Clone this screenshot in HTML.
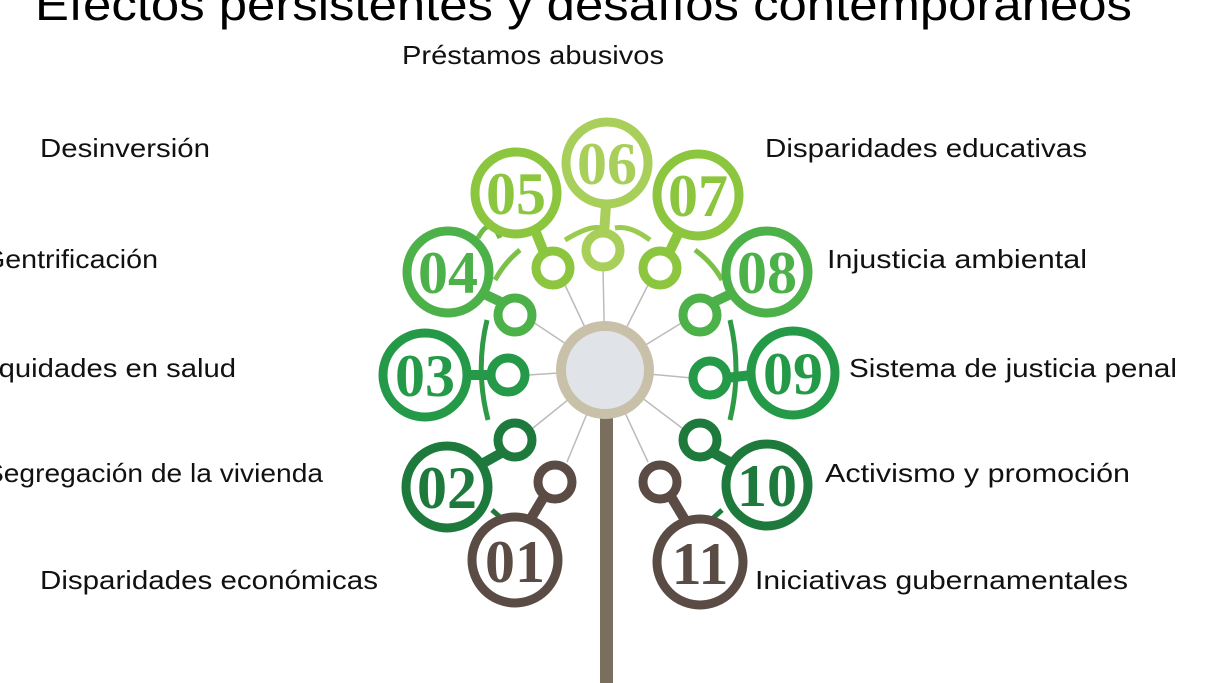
<!DOCTYPE html>
<html><head><meta charset="utf-8"><style>
html,body{margin:0;padding:0;background:#fff;width:1215px;height:683px;overflow:hidden}
svg{display:block}
.t{font-family:"Liberation Sans",sans-serif;font-size:26px;fill:#111}
.n{font-family:"Liberation Serif",serif;font-weight:bold;font-size:60px;text-anchor:middle}
</style></head><body>
<svg width="1215" height="683" viewBox="0 0 1215 683" xmlns="http://www.w3.org/2000/svg">
<text x="35" y="20" font-family="Liberation Sans, sans-serif" font-size="45" fill="#000" textLength="1097" lengthAdjust="spacingAndGlyphs">Efectos persistentes y desafíos contemporáneos</text>
<text class="t" x="402" y="64" textLength="262" lengthAdjust="spacingAndGlyphs">Préstamos abusivos</text>
<text class="t" x="40" y="157" textLength="170" lengthAdjust="spacingAndGlyphs">Desinversión</text>
<text class="t" x="-17" y="268" textLength="175" lengthAdjust="spacingAndGlyphs">Gentrificación</text>
<text class="t" x="-42" y="377" textLength="278" lengthAdjust="spacingAndGlyphs">Inequidades en salud</text>
<text class="t" x="-15" y="482" textLength="338" lengthAdjust="spacingAndGlyphs">Segregación de la vivienda</text>
<text class="t" x="40" y="589" textLength="338" lengthAdjust="spacingAndGlyphs">Disparidades económicas</text>
<text class="t" x="765" y="157" textLength="322" lengthAdjust="spacingAndGlyphs">Disparidades educativas</text>
<text class="t" x="827" y="268" textLength="260" lengthAdjust="spacingAndGlyphs">Injusticia ambiental</text>
<text class="t" x="849" y="377" textLength="328" lengthAdjust="spacingAndGlyphs">Sistema de justicia penal</text>
<text class="t" x="825" y="482" textLength="305" lengthAdjust="spacingAndGlyphs">Activismo y promoción</text>
<text class="t" x="755" y="589" textLength="373" lengthAdjust="spacingAndGlyphs">Iniciativas gubernamentales</text>

<rect x="600" y="410" width="13" height="273" fill="#7a6e5f"/>
<g stroke="#bbb" stroke-width="1.5" fill="none">
<line x1="605" y1="370" x2="567" y2="462"/><line x1="605" y1="370" x2="533" y2="428"/>
<line x1="605" y1="370" x2="528" y2="375"/><line x1="605" y1="370" x2="533" y2="322"/>
<line x1="605" y1="370" x2="565" y2="285"/><line x1="605" y1="370" x2="603" y2="267"/>
<line x1="605" y1="370" x2="648" y2="285"/><line x1="605" y1="370" x2="683" y2="322"/>
<line x1="605" y1="370" x2="692" y2="378"/><line x1="605" y1="370" x2="682" y2="428"/>
<line x1="605" y1="370" x2="648" y2="462"/>
</g>
<circle cx="605" cy="370" r="44" fill="#e0e4e8" stroke="#c9c0aa" stroke-width="10"/>

<g fill="none" stroke-width="5">
<path d="M487 320 Q475 370 488 420" stroke="#2e9a46"/>
<path d="M730 320 Q742 370 730 420" stroke="#2e9a46"/>
<path d="M478 238 Q490 215 500 238" stroke="#6dbb44"/>
<path d="M565 240 Q590 225 600 228" stroke="#9acb4c"/>
<path d="M615 228 Q630 225 650 240" stroke="#9acb4c"/>
<path d="M520 250 Q505 262 495 280" stroke="#7cc048"/>
<path d="M695 250 Q712 262 722 280" stroke="#7cc048"/>
<path d="M492 510 L515 530" stroke="#1e7a3c"/>
<path d="M722 510 L700 530" stroke="#1e7a3c"/>
</g>
<g stroke-width="10" fill="none">
<line x1="545" y1="495" x2="530" y2="520" stroke="#5a4c45"/>
<line x1="670" y1="495" x2="685" y2="520" stroke="#5a4c45"/>
<line x1="503" y1="452" x2="480" y2="465" stroke="#1e7a3c"/>
<line x1="712" y1="452" x2="735" y2="465" stroke="#1e7a3c"/>
<line x1="492" y1="375" x2="466" y2="375" stroke="#249a48"/>
<line x1="726" y1="378" x2="752" y2="375" stroke="#249a48"/>
<line x1="503" y1="303" x2="480" y2="292" stroke="#4cb148"/>
<line x1="712" y1="303" x2="735" y2="292" stroke="#4cb148"/>
<line x1="545" y1="255" x2="535" y2="230" stroke="#8cc63f"/>
<line x1="668" y1="255" x2="680" y2="230" stroke="#8cc63f"/>
<line x1="604" y1="234" x2="606" y2="205" stroke="#a9cf5b"/>
</g>
<g fill="#fff" stroke-width="9">
<circle cx="555" cy="482" r="17" stroke="#5a4c45"/>
<circle cx="515" cy="560" r="43" stroke="#5a4c45"/>
<circle cx="660" cy="482" r="17" stroke="#5a4c45"/>
<circle cx="700" cy="562" r="43" stroke="#5a4c45"/>
<circle cx="515" cy="440" r="17" stroke="#1e7a3c"/>
<circle cx="447" cy="487" r="41" stroke="#1e7a3c"/>
<circle cx="700" cy="440" r="17" stroke="#1e7a3c"/>
<circle cx="767" cy="485" r="41" stroke="#1e7a3c"/>
<circle cx="508" cy="375" r="17" stroke="#249a48"/>
<circle cx="425" cy="375" r="42" stroke="#249a48"/>
<circle cx="710" cy="378" r="17" stroke="#249a48"/>
<circle cx="793" cy="373" r="42" stroke="#249a48"/>
<circle cx="515" cy="315" r="17" stroke="#4cb148"/>
<circle cx="448" cy="272" r="41" stroke="#4cb148"/>
<circle cx="700" cy="315" r="17" stroke="#4cb148"/>
<circle cx="767" cy="272" r="41" stroke="#4cb148"/>
<circle cx="553" cy="268" r="17" stroke="#8cc63f"/>
<circle cx="516" cy="193" r="41" stroke="#8cc63f"/>
<circle cx="660" cy="268" r="17" stroke="#8cc63f"/>
<circle cx="698" cy="195" r="41" stroke="#8cc63f"/>
<circle cx="603" cy="250" r="17" stroke="#a9cf5b"/>
<circle cx="607" cy="163" r="41" stroke="#a9cf5b"/>
</g>
<g>
<text class="n" x="515" y="582" fill="#5a4c45">01</text>
<text class="n" x="447" y="508" fill="#1e7a3c">02</text>
<text class="n" x="425" y="396" fill="#249a48">03</text>
<text class="n" x="448" y="293" fill="#4cb148">04</text>
<text class="n" x="516" y="214" fill="#8cc63f">05</text>
<text class="n" x="607" y="184" fill="#a9cf5b">06</text>
<text class="n" x="698" y="216" fill="#8cc63f">07</text>
<text class="n" x="767" y="293" fill="#4cb148">08</text>
<text class="n" x="793" y="394" fill="#249a48">09</text>
<text class="n" x="767" y="506" fill="#1e7a3c">10</text>
<text class="n" x="700" y="584" fill="#5a4c45">11</text>
</g>
</svg>
</body></html>
